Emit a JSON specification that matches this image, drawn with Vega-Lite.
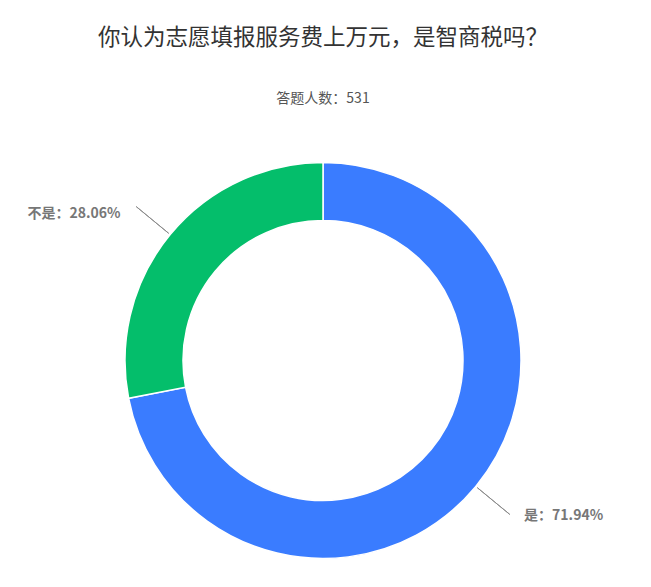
{
  "$schema": "https://vega.github.io/schema/vega-lite/v6.json",
  "width": 651,
  "height": 587,
  "autosize": {"type": "fit", "contains": "padding"},
  "padding": {"top": 26, "left": 0, "right": 5, "bottom": 0},
  "background": "white",
  "title": {
    "text": "你认为志愿填报服务费上万元，是智商税吗？",
    "subtitle": "答题人数：531",
    "anchor": "middle",
    "font": "Noto Sans CJK SC",
    "fontSize": 22.5,
    "fontWeight": "normal",
    "color": "#333333",
    "subtitleFont": "Noto Sans CJK SC",
    "subtitleFontSize": 14,
    "subtitleColor": "#555555",
    "subtitlePadding": 43,
    "offset": 28
  },
  "config": {"view": {"stroke": null}},
  "data": {
    "values": [
      {"answer": "是", "pct": 71.94},
      {"answer": "不是", "pct": 28.06}
    ]
  },
  "transform": [
    {"calculate": "datum.answer + '：' + format(datum.pct, '.2f') + '%'", "as": "label"}
  ],
  "encoding": {
    "theta": {"field": "pct", "type": "quantitative", "stack": true},
    "order": {"field": "pct", "type": "quantitative", "sort": "descending"}
  },
  "layer": [
    {
      "mark": {"type": "arc", "outerRadius": 198, "innerRadius": 140, "stroke": "white", "strokeWidth": 1.5},
      "encoding": {
        "color": {
          "field": "answer",
          "type": "nominal",
          "scale": {"domain": ["是", "不是"], "range": ["#3a7cff", "#04be6b"]},
          "legend": null
        }
      }
    },
    {
      "transform": [
        {"window": [{"op": "sum", "field": "pct", "as": "cum"}], "sort": [{"field": "pct", "order": "descending"}]},
        {"calculate": "datum.cum - datum.pct / 2", "as": "mid"}
      ],
      "mark": {"type": "arc", "outerRadius": 242, "innerRadius": 200, "fill": "transparent", "stroke": "#8c8c8c", "strokeWidth": 1},
      "encoding": {
        "theta": {"field": "mid", "type": "quantitative", "stack": null},
        "theta2": {"field": "mid"}
      }
    },
    {
      "mark": {"type": "text", "radius": 230, "align": "right", "baseline": "middle", "dx": -25, "font": "Noto Sans CJK SC", "fontSize": 14, "fontWeight": "bold", "color": "#777777"},
      "encoding": {
        "text": {"field": "label", "type": "nominal"},
        "opacity": {"condition": {"test": "datum.answer == '不是'", "value": 1}, "value": 0}
      }
    },
    {
      "mark": {"type": "text", "radius": 245, "align": "left", "baseline": "middle", "dx": 12, "font": "Noto Sans CJK SC", "fontSize": 14, "fontWeight": "bold", "color": "#777777"},
      "encoding": {
        "text": {"field": "label", "type": "nominal"},
        "opacity": {"condition": {"test": "datum.answer == '是'", "value": 1}, "value": 0}
      }
    }
  ]
}
